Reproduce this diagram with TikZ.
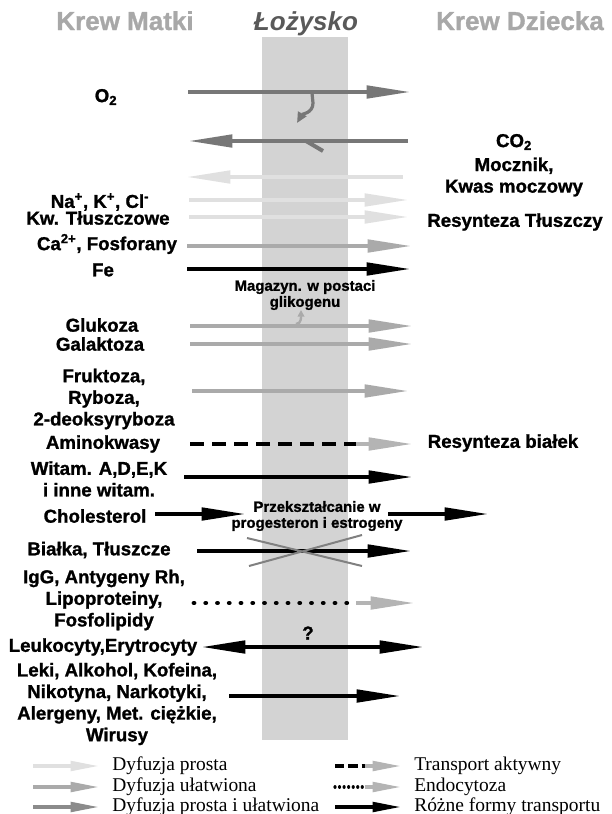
\documentclass[tikz,border=0pt]{standalone}
\usepackage{fontspec}
\setmainfont{Liberation Serif}
\newfontfamily\labfont{Liberation Sans}[BoldFeatures={FakeBold=1.2}]
\usetikzlibrary{arrows.meta}
\definecolor{lightg}{HTML}{E0E0E0}
\definecolor{midg}{HTML}{AAAAAA}
\definecolor{darkg}{HTML}{777777}
\definecolor{headg}{HTML}{B4B4B4}
\definecolor{bandg}{HTML}{D3D3D3}
\definecolor{titleg}{HTML}{A8A8A8}

\begin{document}
\begin{tikzpicture}[x=0.75pt, y=-0.75pt,
    lab/.style={font=\labfont\bfseries\fontsize{14}{16.2}\selectfont, align=center, inner sep=0pt},
    small/.style={font=\labfont\bfseries\fontsize{11.2}{12}\selectfont, align=center, inner sep=0pt},
    title/.style={font=\labfont\bfseries\fontsize{19.5}{22}\selectfont, inner sep=0pt, anchor=base},
    legend/.style={font=\fontsize{14.6}{16}\selectfont, anchor=west, inner sep=0pt},
    flow/.style={line width=3.6pt, -{Triangle[length=34pt,width=9pt]}},
    simple/.style={flow, color=lightg},
    eased/.style={flow, color=midg},
    mixed/.style={flow, color=darkg},
    various/.style={flow, color=black},
    both/.style={line width=3.6pt, color=black, {Triangle[length=34pt,width=9pt]}-{Triangle[length=34pt,width=9pt]}},
    active/.style={line width=3.6pt, dash pattern=on 10.5pt off 6pt},
    endo/.style={line width=3.6pt, line cap=round, dash pattern=on 0.01pt off 8.8pt},
    grayhead/.style={flow, color=headg},
    legarr/.style={line width=3pt, -{Triangle[length=22pt,width=7pt]}}]

\useasboundingbox (0,0) rectangle (611,814);

% placenta band
\fill[bandg] (262,37) rectangle (348,740);

% titles
\node[title, text=titleg] (matka) at (125,30) {Krew Matki};
\node[title, text=black!65, font=\labfont\bfseries\itshape\fontsize{19.5}{22}\selectfont] (lozysko) at (306,30) {Łożysko};
\node[title, text=titleg] (dziecko) at (520,30) {Krew Dziecka};

% arrows
\foreach \n/\s/\y/\a/\b in {o2/mixed/92/188/412, co2/mixed/141/408/187, urea/simple/177/403/185,
    ions/simple/200/189/410, fat/simple/217/189/410, ca/eased/246/187/413, fe/various/269/187/412,
    glu/eased/326/190/414, gal/eased/344/190/414, fru/eased/391/192/410,
    vit/various/477/184/414, chol/various/514/155/247, horm/various/514/388/490,
    prot/various/551/197/413, drug/various/696/229/402} {
  \coordinate (\n-a) at (\a,\y);
  \coordinate (\n-b) at (\b,\y);
  \draw[\s] (\n-a) -- (\n-b);
}

% oxygen branch and CO2 tick
\coordinate (o2-c) at (312,93);
\coordinate (o2-d) at (297,123);
\draw[darkg, line width=2.4pt, -{Triangle[length=8pt,width=7pt]}] (o2-c) -- ++(1,10) to[out=-90,in=60] (o2-d);
\coordinate (co2-c) at (306,141);
\coordinate (co2-d) at (323,151);
\draw[darkg, line width=3pt] (co2-c) -- (co2-d);

% glycogen store
\coordinate (gly-a) at (296,324);
\coordinate (gly-b) at (301,310);
\draw[midg, line width=1.8pt, -{Triangle[length=5pt,width=5pt]}] (gly-a) to[out=0,in=-90] (gly-b);

% amino acids: active transport
\coordinate (amino-a) at (190,444);
\coordinate (amino-m) at (367,444);
\coordinate (amino-b) at (414,444);
\draw[active] (amino-a) -- (amino-m);
\draw[grayhead] ([xshift=-8]amino-m) -- (amino-b);

% proteins blocked
\coordinate (x1) at (247,538);
\coordinate (x2) at (362,566);
\coordinate (x3) at (249,566);
\coordinate (x4) at (362,535);
\draw[black!50, line width=1.5pt] (x1) -- (x2) (x3) -- (x4);

% endocytosis
\coordinate (igg-a) at (194,603);
\coordinate (igg-m) at (367,603);
\coordinate (igg-b) at (416,603);
\draw[endo] (igg-a) -- (igg-m);
\draw[grayhead] ([xshift=-8]igg-m) -- (igg-b);

% cells
\coordinate (cell-a) at (200,647);
\coordinate (cell-b) at (425,647);
\draw[both] (cell-a) -- (cell-b);

% labels, mother side
\node[lab] (o2) at (106,97) {O\textsubscript{2}};
\node[lab] (ions) at (100,202) {Na\textsuperscript{+}, K\textsuperscript{+}, Cl\textsuperscript{-}};
\node[lab] (fat) at (98,218) {Kw. Tłuszczowe};
\node[lab] (ca) at (107,244) {Ca\textsuperscript{2+}, Fosforany};
\node[lab] (fe) at (103,270) {Fe};
\node[lab] (glu) at (102,325) {Glukoza};
\node[lab] (gal) at (100,344) {Galaktoza};
\node[lab] (fru) at (104,399) {Fruktoza,\\Ryboza,\\2-deoksyryboza};
\node[lab] (amino) at (103,444) {Aminokwasy};
\node[lab] (vit) at (99,479) {Witam. A,D,E,K\\i inne witam.};
\node[lab] (chol) at (95,516) {Cholesterol};
\node[lab] (prot) at (99,550) {Białka, Tłuszcze};
\node[lab] (igg) at (104,600) {IgG, Antygeny Rh,\\Lipoproteiny,\\Fosfolipidy};
\node[lab] (cell) at (103,647) {Leukocyty,Erytrocyty};
\node[lab] (drug) at (117,704) {Leki, Alkohol, Kofeina,\\Nikotyna, Narkotyki,\\Alergeny, Met. ciężkie,\\Wirusy};

% labels, placenta
\node[small] (gly) at (305,295) {Magazyn. w postaci\\glikogenu};
\node[small] (horm) at (317,516) {Przekształcanie w\\progesteron i estrogeny};
\node[lab] (unknown) at (308,633) {?};

% labels, child side
\node[lab] (co2) at (514,142) {CO\textsubscript{2}};
\node[lab] (urea) at (514,177) {Mocznik,\\Kwas moczowy};
\node[lab] (fatre) at (515,222) {Resynteza Tłuszczy};
\node[lab] (protre) at (503,443) {Resynteza białek};

% legend
\coordinate (l1a) at (33,766);  \coordinate (l1b) at (100,766);
\coordinate (l2a) at (33,787);  \coordinate (l2b) at (100,787);
\coordinate (l3a) at (33,807);  \coordinate (l3b) at (100,807);
\draw[legarr, lightg] (l1a) -- (l1b);
\draw[legarr, midg] (l2a) -- (l2b);
\draw[legarr, darkg!85] (l3a) -- (l3b);
\node[legend] (leg1) at (112,766) {Dyfuzja prosta};
\node[legend] (leg2) at (112,787) {Dyfuzja ułatwiona};
\node[legend] (leg3) at (112,807) {Dyfuzja prosta i ułatwiona};

\coordinate (r1a) at (335,766);  \coordinate (r1m) at (370,766);  \coordinate (r1b) at (402,766);
\coordinate (r2a) at (335,787);  \coordinate (r2m) at (370,787);  \coordinate (r2b) at (402,787);
\coordinate (r3a) at (335,807);  \coordinate (r3b) at (402,807);
\draw[line width=3pt, dash pattern=on 7pt off 3pt] (r1a) -- (r1m);
\draw[legarr, headg] ([xshift=-4]r1m) -- (r1b);
\draw[line width=2.4pt, line cap=round, dash pattern=on 0.01pt off 3.4pt] (r2a) -- (r2m);
\draw[legarr, headg] ([xshift=-4]r2m) -- (r2b);
\draw[legarr, black] (r3a) -- (r3b);
\node[legend] (leg4) at (414,766) {Transport aktywny};
\node[legend] (leg5) at (414,787) {Endocytoza};
\node[legend] (leg6) at (414,807) {Różne formy transportu};
\end{tikzpicture}
\end{document}
